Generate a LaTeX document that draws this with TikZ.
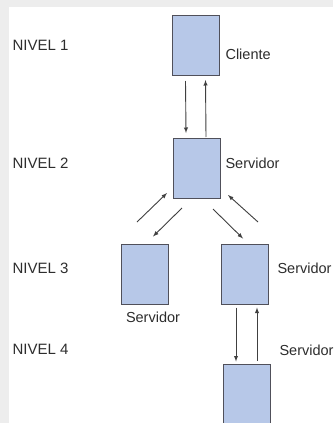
\documentclass[tikz,border=0pt]{standalone}
\usepackage{fontspec}
\setmainfont{Liberation Sans}
\usepackage{tikz}

\definecolor{boxfill}{RGB}{183,200,232}
\definecolor{boxline}{RGB}{80,80,90}
\definecolor{txt}{RGB}{45,45,45}

\begin{document}
\begin{tikzpicture}[x=1pt,y=-1pt,
    caja/.style={draw=boxline,fill=boxfill,line width=1pt,minimum width=47pt,minimum height=60pt,inner sep=0pt},
    nivel/.style={anchor=west,text=txt,font=\fontsize{15}{15}\selectfont},
    rotulo/.style={text=txt,font=\fontsize{14.5}{14.5}\selectfont},
    flecha/.style={-latex,line width=0.9pt,draw=black!75}]
  % Fondo
  \fill[gray!14] (0,0) rectangle (333,423);
  \fill[white] (9,7) rectangle (333,423);
  \useasboundingbox (0,0) rectangle (333,423);
  % Niveles
  \node[nivel] (n1) at (9,45) {NIVEL 1};
  \node[nivel] (n2) at (9,163) {NIVEL 2};
  \node[nivel] (n3) at (9,268) {NIVEL 3};
  \node[nivel] (n4) at (9,349) {NIVEL 4};
  % Cajas
  \node[caja] (cli) at (195.5,45.5) {};
  \node[caja] (s2) at (197,168.5) {};
  \node[caja] (s3a) at (145,274) {};
  \node[caja] (s3b) at (245,274) {};
  \node[caja] (s4) at (247,394) {};
  % Rotulos
  \node[rotulo,anchor=west] (tcli) at (222,54) {Cliente};
  \node[rotulo,anchor=west] (ts2) at (222,163) {Servidor};
  \node[rotulo] (ts3a) at (153,317) {Servidor};
  \node[rotulo,anchor=west] (ts3b) at (274,268) {Servidor};
  \node[rotulo,anchor=west] (ts4) at (276,350) {Servidor};
  % Flechas verticales
  \draw[flecha] ([shift={(-10,5)}]cli.south) -- ([shift={(-11,-5)}]s2.north);
  \draw[flecha] ([shift={(9,-1)}]s2.north) -- ([shift={(10,4)}]cli.south);
  \draw[flecha] ([shift={(-9,3)}]s3b.south) -- ([shift={(-11,-2)}]s4.north);
  \draw[flecha] ([shift={(10,-3)}]s4.north) -- ([shift={(12,3)}]s3b.south);
  % Flechas diagonales
  \draw[flecha] ([shift={(-36,23)}]s2.south west) -- ([shift={(-6,-6)}]s2.south west);
  \draw[flecha] ([shift={(9,9)}]s2.south west) -- ([shift={(-16,-7)}]s3a.north east);
  \draw[flecha] ([shift={(-8,10)}]s2.south east) -- ([shift={(22,-5)}]s3b.north west);
  \draw[flecha] ([shift={(37,23)}]s2.south east) -- ([shift={(7,-4)}]s2.south east);
\end{tikzpicture}
\end{document}
